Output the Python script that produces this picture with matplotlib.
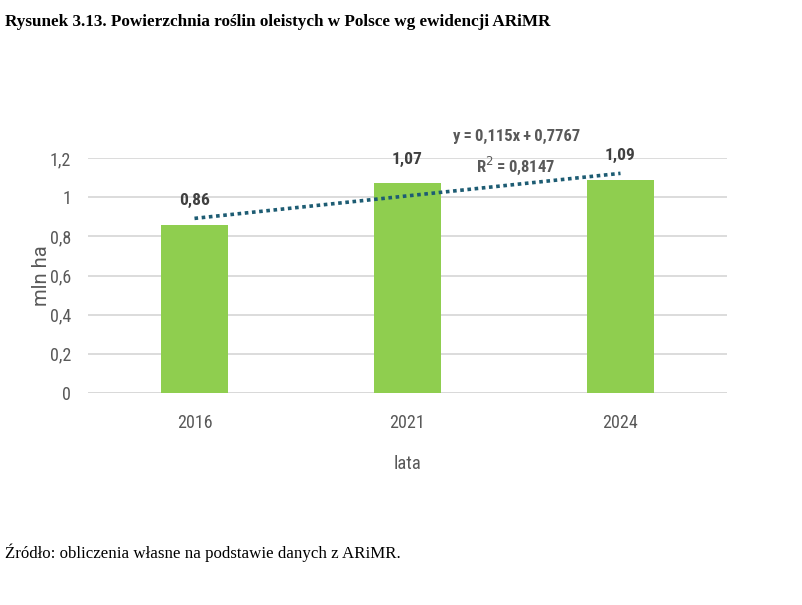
import matplotlib
matplotlib.use("Agg")
import matplotlib.pyplot as plt
import numpy as np

years = ["2016", "2021", "2024"]
values = [0.86, 1.07, 1.09]
value_labels = ["0,86", "1,07", "1,09"]
yticks = [0, 0.2, 0.4, 0.6, 0.8, 1.0, 1.2]
ytick_labels = ["0", "0,2", "0,4", "0,6", "0,8", "1", "1,2"]

narrow = dict(family=["Roboto Condensed", "DejaVu Sans"], stretch="condensed")
regular = dict(family=["Roboto", "DejaVu Sans"])
serif = ["Liberation Serif", "DejaVu Serif"]
txt = "#595959"

fig = plt.figure(figsize=(8.03, 6.05), dpi=100)
ax = fig.add_axes([88/803, 212/605, 639/803, 235/605])

x = np.arange(len(years))
ax.bar(x, values, width=0.315, color="#8fce4f", zorder=3)

# trendline (linear fit on x = 1..n)
xs = x + 1
slope, intercept = np.polyfit(xs, values, 1)
pred = slope * xs + intercept
r2 = 1 - np.sum((np.array(values) - pred) ** 2) / np.sum((np.array(values) - np.mean(values)) ** 2)
ax.plot(x, pred, linestyle=(0, (1, 1)), color="#1d5c73", linewidth=2.6, zorder=4)

ts = "\u2009"
ax.text(1.51, 1.31, f"y{ts}={ts}{slope:.3f}x{ts}+{ts}{intercept:.4f}".replace(".", ","),
        ha="center", va="center", fontsize=12, fontweight="bold", color=txt,
        clip_on=False, **narrow)
ax.text(1.51, 1.16, f"R$^2${ts}={ts}" + f"{r2:.4f}".replace(".", ","),
        ha="center", va="center", fontsize=12, fontweight="bold", color=txt,
        clip_on=False, **narrow)

for xi, v, lab in zip(x, values, value_labels):
    ax.annotate(lab, (xi, v), xytext=(0, 12), textcoords="offset points",
                ha="center", va="bottom", fontsize=12.5, fontweight="bold",
                color="#404040", annotation_clip=False, **narrow)

ax.set_xlim(-0.5, 2.5)
ax.set_ylim(0, 1.2)
ax.set_yticks(yticks)
ax.set_yticklabels(ytick_labels, fontsize=13, color=txt, **narrow)
ax.set_xticks(x)
ax.set_xticklabels(years, fontsize=13, color=txt, **narrow)
ax.tick_params(axis="both", length=0, pad=12)
ax.tick_params(axis="x", pad=15)
ax.grid(axis="y", color="#d9d9d9", linewidth=1.3, zorder=0)
for s in ax.spines.values():
    s.set_visible(False)
ax.axhline(0, color="#d9d9d9", linewidth=1.3, zorder=2)

ax.set_xlabel("lata", fontsize=13.5, color=txt, labelpad=17, **narrow)
ax.set_ylabel("mln ha", fontsize=14.5, color=txt, **regular)
ax.yaxis.set_label_coords(-0.058, 0.5)

fig.text(5/803, 1 - 22/605, "Rysunek 3.13. Powierzchnia roślin oleistych w Polsce wg ewidencji ARiMR",
         family=serif, fontsize=12.3, fontweight="bold", ha="left", va="center", color="black")
fig.text(5/803, 1 - 553/605, "Źródło: obliczenia własne na podstawie danych z ARiMR.",
         family=serif, fontsize=12.2, ha="left", va="center", color="black")

fig.savefig("out.png", dpi=100, facecolor="white")
